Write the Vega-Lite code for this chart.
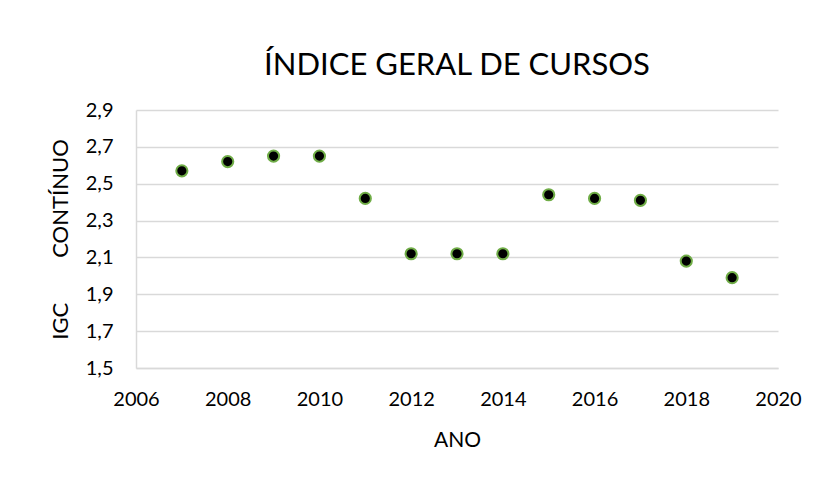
{
  "$schema": "https://vega.github.io/schema/vega-lite/v6.json",
  "autosize": {"type": "none"},
  "padding": {"left": 136, "top": 110, "right": 43, "bottom": 113},
  "width": 642,
  "height": 258,
  "background": "white",
  "title": {
    "text": "ÍNDICE GERAL DE CURSOS",
    "anchor": "middle",
    "font": "Lato",
    "fontSize": 31,
    "fontWeight": "normal",
    "color": "#000000",
    "baseline": "alphabetic",
    "offset": -6
  },
  "data": {
    "values": [
      {"ano": 2007, "igc": 2.57},
      {"ano": 2008, "igc": 2.62},
      {"ano": 2009, "igc": 2.65},
      {"ano": 2010, "igc": 2.65},
      {"ano": 2011, "igc": 2.42},
      {"ano": 2012, "igc": 2.12},
      {"ano": 2013, "igc": 2.12},
      {"ano": 2014, "igc": 2.12},
      {"ano": 2015, "igc": 2.44},
      {"ano": 2016, "igc": 2.42},
      {"ano": 2017, "igc": 2.41},
      {"ano": 2018, "igc": 2.08},
      {"ano": 2019, "igc": 1.99}
    ]
  },
  "mark": {"type": "point", "filled": true, "fill": "#000000", "stroke": "#70AD47", "strokeWidth": 2, "size": 125, "opacity": 1},
  "encoding": {
    "x": {
      "field": "ano",
      "type": "quantitative",
      "scale": {"domain": [2006, 2020], "nice": false, "zero": false},
      "axis": {
        "title": "ANO",
        "values": [2006, 2008, 2010, 2012, 2014, 2016, 2018, 2020],
        "format": "d",
        "grid": false,
        "ticks": false,
        "domain": true,
        "domainColor": "#d9d9d9",
        "domainWidth": 1.5,
        "labelFont": "Lato",
        "labelFontSize": 20,
        "labelColor": "#000000",
        "labelPadding": 21,
        "labelFlush": false,
        "titleFont": "Lato",
        "titleFontSize": 21,
        "titleFontWeight": "normal",
        "titleColor": "#000000",
        "titlePadding": 20
      }
    },
    "y": {
      "field": "igc",
      "type": "quantitative",
      "scale": {"domain": [1.5, 2.9], "nice": false, "zero": false},
      "axis": {
        "title": "IGC\u00a0\u00a0\u00a0\u00a0\u00a0\u00a0\u00a0\u00a0CONTÍNUO",
        "values": [1.5, 1.7, 1.9, 2.1, 2.3, 2.5, 2.7, 2.9],
        "labelExpr": "replace(format(datum.value, '.1f'), '.', ',')",
        "grid": true,
        "gridColor": "#d9d9d9",
        "gridWidth": 1.5,
        "ticks": false,
        "domain": true,
        "domainColor": "#d9d9d9",
        "domainWidth": 1.5,
        "labelFont": "Lato",
        "labelFontSize": 20,
        "labelColor": "#000000",
        "labelPadding": 23,
        "labelFlush": false,
        "titleFont": "Lato",
        "titleFontSize": 22,
        "titleFontWeight": "normal",
        "titleColor": "#000000",
        "titleAngle": -90,
        "titleAlign": "center",
        "titleBaseline": "middle",
        "titleX": -76,
        "titleY": 129
      }
    }
  },
  "config": {
    "view": {"stroke": null}
  }
}
